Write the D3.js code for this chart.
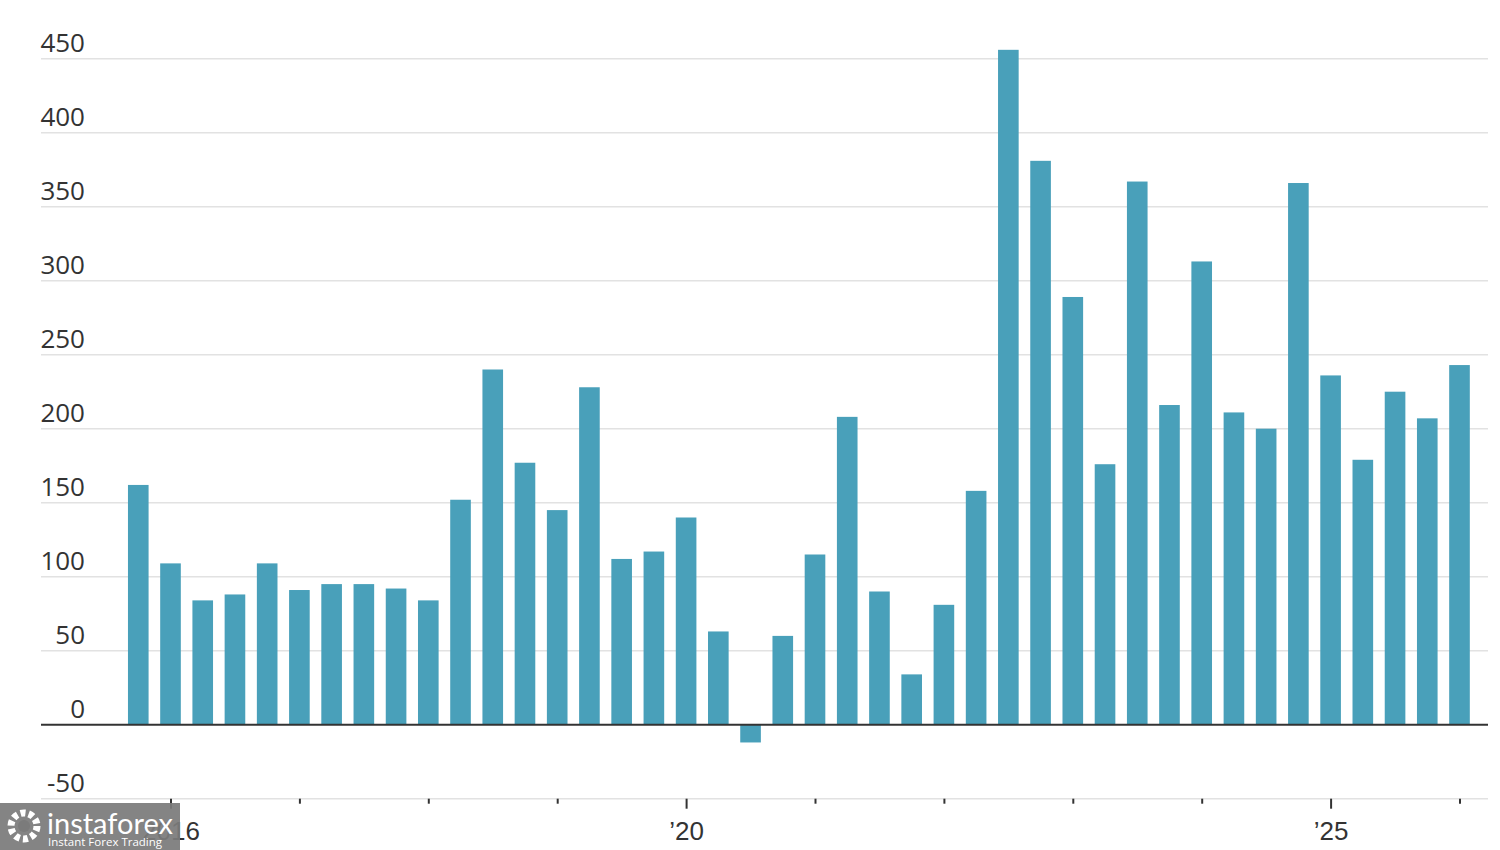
<!DOCTYPE html>
<html>
<head>
<meta charset="utf-8">
<script src="https://cdn.jsdelivr.net/npm/d3@7"></script>
<style>
  body { margin: 0; background: #fff; }
  svg { display: block; font-family: "Open Sans", "Noto Sans", sans-serif; }
</style>
</head>
<body>
<svg id="chart" width="1500" height="850"></svg>
<script>
// quarterly values, 2015 Q4 .. 2026 Q1
var quarters = ["2015Q4",
  "2016Q1","2016Q2","2016Q3","2016Q4",
  "2017Q1","2017Q2","2017Q3","2017Q4",
  "2018Q1","2018Q2","2018Q3","2018Q4",
  "2019Q1","2019Q2","2019Q3","2019Q4",
  "2020Q1","2020Q2","2020Q3","2020Q4",
  "2021Q1","2021Q2","2021Q3","2021Q4",
  "2022Q1","2022Q2","2022Q3","2022Q4",
  "2023Q1","2023Q2","2023Q3","2023Q4",
  "2024Q1","2024Q2","2024Q3","2024Q4",
  "2025Q1","2025Q2","2025Q3","2025Q4",
  "2026Q1"];
var values = [162,
  109, 84, 88, 109,
  91, 95, 95, 92,
  84, 152, 240, 177,
  145, 228, 112, 117,
  140, 63, -12, 60,
  115, 208, 90, 34,
  81, 158, 456, 381,
  289, 176, 367, 216,
  313, 211, 200, 366,
  236, 179, 225, 207,
  243];

var yTicks = [-50, 0, 50, 100, 150, 200, 250, 300, 350, 400, 450];
var yearTicks = [2016, 2017, 2018, 2019, 2020, 2021, 2022, 2023, 2024, 2025, 2026];
var yearLabels = {2016: "2016", 2020: "\u201920", 2025: "\u201925"};

var barColor = "#49a0ba",
	gridColor = "#e2e2e2",
	textColor = "#333333";

var left = 41, right = 1488, labelRight = 85;

var svg = d3.select("#chart");

// "2016Q3" -> 2016.5  (bar is centred on the start of its quarter)
function quarterPos(q){
	var yr = +q.slice(0, 4), qn = +q.slice(5);
	return yr + (qn - 1) / 4;
}

var x = d3.scaleLinear().domain([2016, 2026]).range([170.5, 1459.5]);
var y = d3.scaleLinear().domain([-50, 450]).range([798.7, 58.7]);
var step = x(2016.25) - x(2016);
var barW = step * 0.64;

// gridlines + labels
var grid = svg.append("g").attr("class", "grid");
grid.selectAll("line").data(yTicks.filter(function(d){ return d != 0; })).enter()
	.append("line")
	.attr("x1", left).attr("x2", right)
	.attr("y1", function(d){ return y(d); })
	.attr("y2", function(d){ return y(d); })
	.attr("stroke", gridColor)
	.attr("stroke-width", 1.6);

grid.selectAll("text").data(yTicks).enter()
	.append("text")
	.attr("x", labelRight)
	.attr("y", function(d){ return y(d) - 6.5; })
	.attr("text-anchor", "end")
	.attr("fill", textColor)
	.attr("font-size", "26px")
	.text(function(d){ return d; });

// bars
svg.append("g").selectAll("rect").data(values).enter()
	.append("rect")
	.attr("x", function(d, i){ return x(quarterPos(quarters[i])) - barW / 2; })
	.attr("y", function(d){ return y(Math.max(d, 0)); })
	.attr("width", barW)
	.attr("height", function(d){ return Math.abs(y(d) - y(0)); })
	.attr("fill", barColor);

// zero line
svg.append("line")
	.attr("x1", left).attr("x2", right)
	.attr("y1", y(0)).attr("y2", y(0))
	.attr("stroke", "#333")
	.attr("stroke-width", 2);

// x axis ticks
var xAxis = svg.append("g")
	.attr("transform", "translate(0," + y(-50) + ")")
	.call(d3.axisBottom(x).tickValues(yearTicks).tickSize(0).tickFormat(""));
xAxis.select(".domain").remove();
xAxis.selectAll(".tick").each(function(d){
	var t = d3.select(this);
	var major = yearLabels[d] !== undefined;
	t.append("line")
		.attr("y1", 0).attr("y2", major ? 10 : 5)
		.attr("stroke", "#333")
		.attr("stroke-width", 2);
	if(major){
		t.append("text")
			.attr("y", 41)
			.attr("text-anchor", "middle")
			.attr("fill", textColor)
			.attr("font-size", "26px")
			.text(yearLabels[d]);
	}
});

// watermark
var wm = svg.append("g").attr("class", "watermark");
wm.append("rect")
	.attr("x", 0).attr("y", 803)
	.attr("width", 180).attr("height", 47)
	.attr("fill", "#7b7b7b")
	.attr("opacity", 0.93);
wm.append("circle")
	.attr("cx", 24).attr("cy", 826).attr("r", 13)
	.attr("fill", "none")
	.attr("stroke", "#fff")
	.attr("stroke-width", 7)
	.attr("stroke-dasharray", "5,3.2");
wm.append("circle")
	.attr("cx", 24).attr("cy", 826).attr("r", 6)
	.attr("fill", "#7b7b7b");
wm.append("text")
	.attr("x", 47).attr("y", 834)
	.attr("fill", "#fff")
	.attr("font-size", "29px")
	.attr("font-family", "Lato, 'Open Sans', sans-serif")
	.text("instaforex");
wm.append("text")
	.attr("x", 48).attr("y", 846)
	.attr("fill", "#fff")
	.attr("font-size", "11.5px")
	.text("Instant Forex Trading");
</script>
</body>
</html>
